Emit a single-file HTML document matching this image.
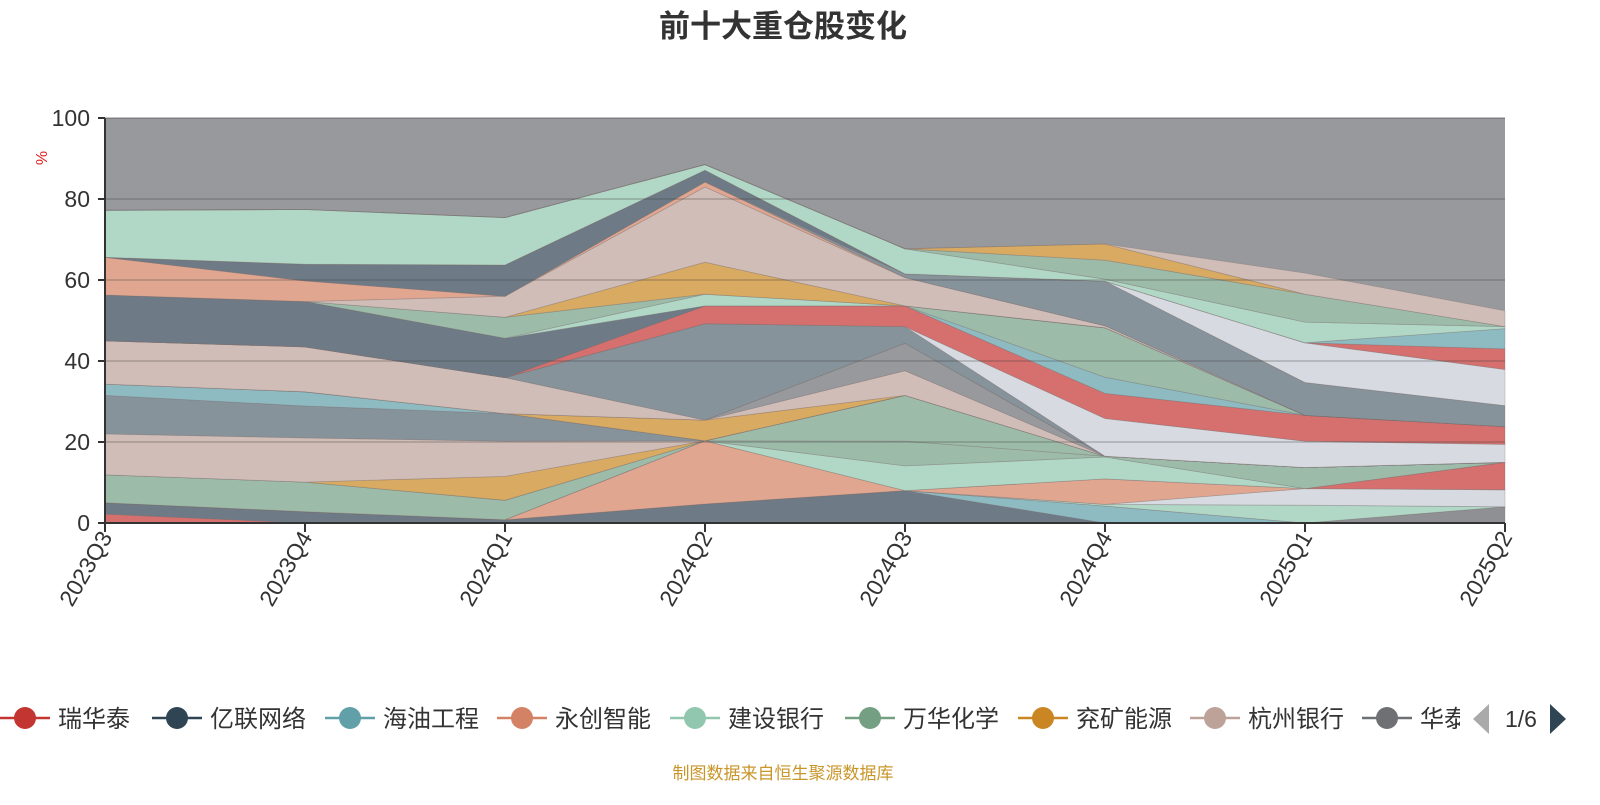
<!DOCTYPE html>
<html><head><meta charset="utf-8">
<style>
html,body{margin:0;padding:0;background:#fff;}
body{width:1600px;height:800px;overflow:hidden;font-family:"Liberation Sans","Noto Sans CJK SC",sans-serif;}
svg text{font-family:"Liberation Sans","Noto Sans CJK SC",sans-serif;}
</style></head>
<body>
<svg id="chart" width="1600" height="800" viewBox="0 0 1600 800" xmlns="http://www.w3.org/2000/svg">
  <text x="783" y="37" text-anchor="middle" font-size="31" font-weight="bold" fill="#333">前十大重仓股变化</text>
  <text x="0" y="0" transform="translate(47,158) rotate(-90)" text-anchor="middle" font-size="16" fill="#e02020">%</text>
  <g id="plot"></g>
  <g id="axes"></g>
  <g id="legend"></g>
  <text x="783" y="779" text-anchor="middle" font-size="17" fill="#c9962a">制图数据来自恒生聚源数据库</text>
</svg>
<script>
const categories = ["2023Q3","2023Q4","2024Q1","2024Q2","2024Q3","2024Q4","2025Q1","2025Q2"];
const yTicks = [0,20,40,60,80,100];
const seriesNames = ["red_a","dark_a","teal_a","grey_a","mint_a","lightgrey_a","salmon_a","red_b","mint_c","green_a","green_b","orange_a","pink_a","slate_a","teal_b","orange_b","pink_c","grey_b","pink_b","slate2","lightgrey_b","red_c","teal_c","green_c","dark_big","mint_d","green_d","orange_c","pink_e","salmon_b","slate_b","dark_thin","lightgrey_c","red_d","teal_d","mint_e","green_top","orange_top","pink_f"];
const seriesColors = ["#d5706e","#6e7b87","#8ebbc2","#8f9094","#b1d8c6","#d7dbe1","#e0a690","#d5706e","#b1d8c6","#9dbba9","#9dbba9","#d8aa62","#d1bdb7","#87939a","#8ebbc2","#d8aa62","#d1bdb7","#98999d","#d1bdb7","#87939a","#d7dbe1","#d5706e","#8ebbc2","#9dbba9","#6e7b87","#b1d8c6","#9dbba9","#d8aa62","#d1bdb7","#e0a690","#87939a","#6e7b87","#d7dbe1","#d5706e","#8ebbc2","#b1d8c6","#9dbba9","#d8aa62","#d1bdb7"];
const s01 = [2.2,0,0,0,0,0,0,0];
const s02 = [2.8,2.8,0.8,4.7,8,0,0,0];
const s03 = [0,0,0,0,0,4.2,0,0];
const s04 = [0,0,0,0,0,0,0,4];
const s05 = [0,0,0,0,0,0.4,4.4,0];
const s06 = [0,0,0,0,0,0,4.1,4.2];
const s07 = [0,0,0,15.6,0,6.3,0,0];
const s08 = [0,0,0,0,0,0,0,6.8];
const s09 = [0,0,0,0,6.1,5.4,0,0];
const s10 = [6.9,7.3,4.8,0,6.1,0.2,5.2,0];
const s11 = [0,0,0,0,11.3,0,0,0];
const s12 = [0,0,5.9,0,0,0,0,0];
const s13 = [10.1,10.9,8.7,0,0,0,0,0];
const s14 = [9.5,7.9,6.8,0,0,0,0,0];
const s15 = [2.8,3.5,0,0,0,0,0,0];
const s16 = [0,0,0,5.1,0,0,0,0];
const s17 = [0,0,0,0,6.1,0,0,0];
const s18 = [0,0,0,0,6.8,0,0,0];
const s19 = [10.7,11.1,8.9,0,0,0,0,0];
const s20 = [0,0,0,23.8,4.1,0,0,0];
const s21 = [0,0,0,0,0,9.3,6.5,4.4];
const s22 = [0,0,0,4.4,5.1,6.2,6.4,4.4];
const s23 = [0,0,0,0,0,4,0,0];
const s24 = [0,0,0,0,0,12.2,0,0];
const s25 = [11.3,11.2,9.7,0,0,0,0,0];
const s26 = [0,0,0,2.9,0,0,0,0];
const s27 = [0,0,5.2,0,0,0,0,0];
const s28 = [0,0,0,7.9,0,0,0,0];
const s29 = [0,0,5.2,18.6,7,0.5,0,0];
const s30 = [9.3,5.1,0,1.2,0,0,0,0];
const s31 = [0,0,0,0,0.9,11,8.1,5.2];
const s32 = [0,4.1,7.7,2.9,0,0,0,0];
const s33 = [0,0,0,0,0,0,9.8,8.9];
const s34 = [0,0,0,0,0,0,0,5.1];
const s35 = [0,0,0,0,0,0,0,5];
const s36 = [11.6,13.5,11.7,1.4,6.2,0.5,5.1,0.5];
const s37 = [0,0,0,0,0,4.7,6.9,0];
const s38 = [0,0,0,0,0,4,0,0];
const s39 = [0,0,0,0,0,0,5.2,3.9];
const seriesValues = [s01,s02,s03,s04,s05,s06,s07,s08,s09,s10,s11,s12,s13,s14,s15,s16,s17,s18,s19,s20,s21,s22,s23,s24,s25,s26,s27,s28,s29,s30,s31,s32,s33,s34,s35,s36,s37,s38,s39];
const legendNames = ["瑞华泰","亿联网络","海油工程","永创智能","建设银行","万华化学","兖矿能源","杭州银行","华泰证券"];
const legendColors = ["#c23531","#2f4554","#61a0a8","#d48265","#91c7ae","#749f83","#ca8622","#bda29a","#6e7074"];

const NS = "http://www.w3.org/2000/svg";
const X0 = 105, X1 = 1505, Y0 = 523, Y1 = 118;
function xs(i){ return X0 + (X1 - X0) * i / (categories.length - 1); }
function ys(v){ return Y0 - (Y0 - Y1) * v / 100; }
function mk(tag, attrs, parent){ const e = document.createElementNS(NS, tag); for (const k in attrs) e.setAttribute(k, attrs[k]); parent.appendChild(e); return e; }

const plot = document.getElementById('plot');
const bg = mk('rect', {x:X0, y:ys(100), width:X1-X0, height:ys(0)-ys(100), fill:'#98999d'}, plot);



let base = categories.map(() => 0);
seriesValues.forEach((vals, si) => {
  const top = base.map((b, i) => b + vals[i]);
  let d = '';
  top.forEach((v, i) => { d += (i ? 'L' : 'M') + xs(i).toFixed(1) + ',' + ys(v).toFixed(1); });
  for (let i = base.length - 1; i >= 0; i--) d += 'L' + xs(i).toFixed(1) + ',' + ys(base[i]).toFixed(1);
  d += 'Z';
  const p = mk('path', {d: d, fill: seriesColors[si], stroke: 'rgba(120,110,110,0.35)', 'stroke-width': 0.8}, plot);
  
  
  base = top;
});

const axes = document.getElementById('axes');
yTicks.forEach(t => {
  if (t > 0 && t < 100) {
    const g = mk('line', {x1:X0, x2:X1, y1:ys(t), y2:ys(t), stroke:'rgba(60,60,60,0.22)', 'stroke-width':2}, axes);
    
    
  }
  const tk = mk('line', {x1:X0-7, x2:X0, y1:ys(t), y2:ys(t), stroke:'#333', 'stroke-width':2}, axes);
  
  
  const lb = mk('text', {x:X0-15, y:ys(t)+8, 'text-anchor':'end', 'font-size':23, fill:'#333'}, axes);
  lb.textContent = t;
  
  
});
const topLine = mk('line', {x1:X0, x2:X1, y1:ys(100), y2:ys(100), stroke:'rgba(60,60,60,0.4)', 'stroke-width':1.5}, axes);


const yAxis = mk('line', {x1:X0, x2:X0, y1:ys(100), y2:ys(0), stroke:'#333', 'stroke-width':2}, axes);


const xAxis = mk('line', {x1:X0, x2:X1, y1:ys(0), y2:ys(0), stroke:'#333', 'stroke-width':2}, axes);


categories.forEach((c, i) => {
  const x = xs(i);
  const tk = mk('line', {x1:x, x2:x, y1:Y0, y2:Y0+9, stroke:'#333', 'stroke-width':2}, axes);
  
  
  const lb = mk('text', {x:0, y:0, transform:'translate(' + (x+8) + ',' + (Y0+14) + ') rotate(-60)', 'text-anchor':'end', 'font-size':23, fill:'#333'}, axes);
  lb.textContent = c;
  
  
});

const legend = document.getElementById('legend');
const legX = [0, 152, 325, 497, 670, 845, 1018, 1190, 1362];
const LY = 718;
const clip = mk('clipPath', {id:'legclip'}, legend);
mk('rect', {x:0, y:690, width:1460, height:60}, clip);
const lg = mk('g', {'clip-path':'url(#legclip)'}, legend);
legendNames.forEach((n, i) => {
  const g = mk('g', {}, lg);
  
  
  const x = legX[i];
  mk('line', {x1:x, x2:x+50, y1:LY, y2:LY, stroke:legendColors[i], 'stroke-width':2.5}, g);
  mk('circle', {cx:x+25, cy:LY, r:11, fill:legendColors[i]}, g);
  const t = mk('text', {x:x+58, y:LY+9, 'font-size':24, fill:'#333'}, g);
  t.textContent = n;
});
const prev = mk('polygon', {points:'1489,704 1489,734 1473,719', fill:'#aaa'}, legend);


const pg = mk('text', {x:1521, y:727, 'text-anchor':'middle', 'font-size':23, fill:'#333'}, legend);
pg.textContent = '1/6';


const next = mk('polygon', {points:'1550,704 1550,734 1566,719', fill:'#2f4554'}, legend);


</script>
</body></html>
